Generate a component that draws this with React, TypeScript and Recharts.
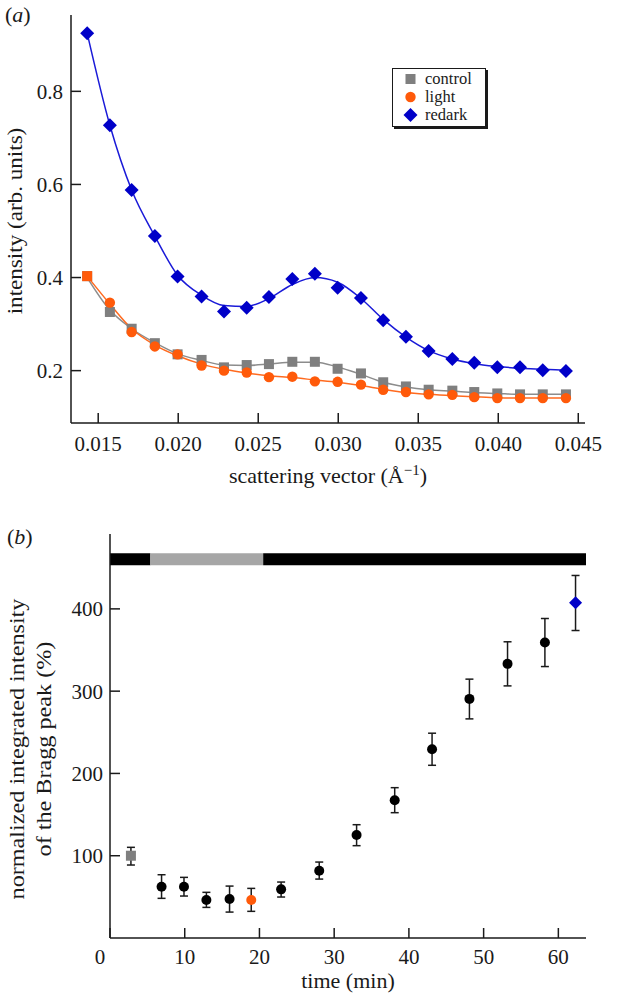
import React from 'react';
import {
  ComposedChart,
  Line,
  Scatter,
  ErrorBar,
  XAxis,
  YAxis,
  Legend,
  ReferenceArea,
  Label,
} from 'recharts';

// ---------- panel (a) data ----------
const qValues = [
  0.01431, 0.01573, 0.01709, 0.01854, 0.01996, 0.02146, 0.02286, 0.02428, 0.02567, 0.02713, 0.02854,
  0.02996, 0.03142, 0.03281, 0.03423, 0.03565, 0.03713, 0.0385, 0.03994, 0.04136, 0.04278, 0.04423,
];
const controlValues = [
  0.403, 0.326, 0.29, 0.259, 0.235, 0.223, 0.207, 0.212, 0.214, 0.219, 0.219, 0.204, 0.194, 0.175, 0.166,
  0.159, 0.157, 0.154, 0.151, 0.149, 0.149, 0.149,
];
const lightValues = [
  0.403, 0.346, 0.283, 0.252, 0.235, 0.211, 0.2, 0.196, 0.186, 0.187, 0.177, 0.176, 0.17, 0.159, 0.154,
  0.149, 0.148, 0.143, 0.141, 0.141, 0.141, 0.141,
];
const redarkValues = [
  0.925, 0.727, 0.588, 0.489, 0.402, 0.359, 0.327, 0.335, 0.358, 0.397, 0.408, 0.378, 0.356, 0.308, 0.273,
  0.242, 0.225, 0.217, 0.207, 0.207, 0.201, 0.199,
];
const controlFitValues = [
  0.4, 0.33, 0.29, 0.26, 0.236, 0.222, 0.212, 0.211, 0.214, 0.218, 0.218, 0.208, 0.192, 0.175, 0.165,
  0.159, 0.156, 0.153, 0.151, 0.149, 0.149, 0.149,
];
const lightFitValues = [
  0.403, 0.343, 0.29, 0.255, 0.232, 0.214, 0.203, 0.195, 0.189, 0.185, 0.18, 0.175, 0.168, 0.16, 0.153,
  0.149, 0.146, 0.144, 0.142, 0.141, 0.141, 0.141,
];
const redarkFitValues = [
  0.925, 0.727, 0.588, 0.489, 0.405, 0.362, 0.34, 0.338, 0.355, 0.385, 0.4, 0.39, 0.355, 0.31, 0.272,
  0.243, 0.225, 0.215, 0.209, 0.205, 0.203, 0.201,
];
const qTicks = [0.015, 0.02, 0.025, 0.03, 0.035, 0.04, 0.045];
const intensityTicks = [0.2, 0.4, 0.6, 0.8];
const legendLabels = ['control', 'light', 'redark'];

// ---------- panel (b) data ----------
const timeValues = [2.8, 6.9, 9.9, 12.9, 16, 18.9, 22.9, 28, 33, 38.1, 43.1, 48.1, 53.2, 58.2, 62.3];
const braggValues = [100, 62.3, 62.3, 46.1, 47.3, 46.1, 59.1, 81.8, 125.2, 167.4, 229.4, 290.6, 333.2, 359.1, 407.4];
const braggErrLow = [11.3, 14.1, 11.3, 8.9, 15.8, 13.7, 9.3, 10.2, 13, 15.1, 19.5, 24.3, 26.8, 29.2, 33.7];
const braggErrHigh = [10.2, 14.6, 11.4, 9.4, 15.8, 14.2, 8.9, 10.5, 12.5, 15.3, 19.5, 24, 26.8, 29.2, 33.2];
const braggGroup = [
  'control', 'dark', 'dark', 'dark', 'dark', 'light', 'dark', 'dark', 'dark', 'dark', 'dark', 'dark', 'dark',
  'dark', 'redark',
];
const timeTicks = [0, 10, 20, 30, 40, 50, 60];
const braggTicks = [100, 200, 300, 400];
const illumStart = [0, 5.4, 20.5];
const illumEnd = [5.4, 20.5, 63.7];
const illumState = ['dark', 'light', 'dark'];

// ---------- styles ----------
const SERIF = '"Liberation Serif", "Times New Roman", serif';
const FRAME = '#1a1a1a';
const GRAY = '#7f7f7f';
const GRAY_LINE = '#8c8c8c';
const ORANGE = '#ff5a0a';
const ORANGE_LINE = '#ff6a1f';
const BLUE = '#0000c8';
const BLUE_LINE = '#1a1ad8';
const TICK_FONT = 21;
const TITLE_FONT = 22;

const rowsA = qValues.map((q, i) => ({
  q,
  control: controlValues[i],
  light: lightValues[i],
  redark: redarkValues[i],
  controlFit: controlFitValues[i],
  lightFit: lightFitValues[i],
  redarkFit: redarkFitValues[i],
}));

const braggRows = timeValues.map((t, i) => ({
  t,
  v: braggValues[i],
  err: [braggErrLow[i], braggErrHigh[i]],
  group: braggGroup[i],
}));
const pointsOf = (g: string) => braggRows.filter((r) => r.group === g);

const illumBars = illumStart.map((s, i) => ({ s, e: illumEnd[i], state: illumState[i] }));

// ---------- marker shapes ----------
const square = (cx: number, cy: number, half: number, fill: string, key?: string) => (
  <rect key={key} x={cx - half} y={cy - half} width={half * 2} height={half * 2} fill={fill} />
);
const diamond = (cx: number, cy: number, r: number, fill: string, key?: string) => (
  <polygon key={key} points={`${cx},${cy - r} ${cx + r},${cy} ${cx},${cy + r} ${cx - r},${cy}`} fill={fill} />
);

const controlDot = (p: any) => square(p.cx, p.cy, 5, GRAY, `c${p.index}`);
const lightDot = (p: any) =>
  p.index === 0 ? (
    square(p.cx, p.cy, 5, ORANGE, `l${p.index}`)
  ) : (
    <circle key={`l${p.index}`} cx={p.cx} cy={p.cy} r={5.2} fill={ORANGE} />
  );
const redarkDot = (p: any) => diamond(p.cx, p.cy, 7, BLUE, `r${p.index}`);

const legendMarker = (label: string) => {
  if (label === 'control') return square(17.5, 9, 5, GRAY);
  if (label === 'light') return <circle cx={17.5} cy={9} r={5.2} fill={ORANGE} />;
  return diamond(17.5, 9, 7, BLUE);
};

const LEGEND_ROW = 18.4;
const legendContent = () => (
  <div
    style={{
      width: 94,
      height: 59,
      boxSizing: 'border-box',
      border: `1.5px solid ${FRAME}`,
      boxShadow: `2px 2px 0 ${FRAME}`,
      background: '#fff',
      paddingTop: 0.5,
      fontFamily: SERIF,
      fontSize: 16.5,
      color: FRAME,
    }}
  >
    {legendLabels.map((lab) => (
      <div key={lab} style={{ display: 'flex', alignItems: 'center', height: LEGEND_ROW }}>
        <svg width={32} height={18} style={{ flex: 'none' }}>
          {legendMarker(lab)}
        </svg>
        <span style={{ lineHeight: `${LEGEND_ROW}px` }}>{lab}</span>
      </div>
    ))}
  </div>
);

const qLabel = (props: any) => {
  const vb = props.viewBox || { x: 71, y: 423, width: 514, height: 77 };
  const cx = vb.x + vb.width / 2;
  return (
    <text x={cx} y={vb.y + 60} textAnchor="middle" fontFamily={SERIF} fontSize={TITLE_FONT} fill={FRAME}>
      <tspan>scattering vector (Å</tspan>
      <tspan dy={-8} fontSize={15}>
        −1
      </tspan>
      <tspan dy={8}>)</tspan>
    </text>
  );
};

// rotated title, stretched slightly along its length as in the reference
const rotatedText = (x: number, cy: number, stretch: number, content: string) => (
  <text
    x={0}
    y={0}
    transform={`translate(${x}, ${cy}) rotate(-90) scale(${stretch}, 1)`}
    textAnchor="middle"
    fontFamily={SERIF}
    fontSize={TITLE_FONT}
    fill={FRAME}
  >
    {content}
  </text>
);

const intensityLabel = (props: any) => {
  const vb = props.viewBox || { x: 0, y: 15, width: 71, height: 408 };
  const cy = vb.y + vb.height / 2 + 2;
  return rotatedText(22, cy, 1.05, 'intensity (arb. units)');
};

const timeLabel = (props: any) => {
  const vb = props.viewBox || { x: 110, y: 438, width: 476, height: 58 };
  const cx = vb.x + vb.width / 2;
  return (
    <text x={cx} y={vb.y + 50} textAnchor="middle" fontFamily={SERIF} fontSize={TITLE_FONT} fill={FRAME}>
      time (min)
    </text>
  );
};

const braggLabel = (props: any) => {
  const vb = props.viewBox || { x: 0, y: 34, width: 110, height: 404 };
  const cy = vb.y + vb.height / 2 + 13;
  return (
    <g>
      {rotatedText(24, cy, 1.1, 'normalized integrated intensity')}
      {rotatedText(51, cy, 1.1, 'of the Bragg peak (%)')}
    </g>
  );
};

const timeTick = (p: any) => (
  <text
    x={p.x + (p.payload.value === 0 ? -10 : 0)}
    y={p.y}
    dy="0.71em"
    textAnchor="middle"
    fontFamily={SERIF}
    fontSize={TICK_FONT}
    fill={FRAME}
  >
    {p.payload.value}
  </text>
);

const tickStyle = { fontFamily: SERIF, fontSize: TICK_FONT, fill: FRAME };
const axisLine = { stroke: FRAME, strokeWidth: 1.5 };
const tickLine = { stroke: FRAME, strokeWidth: 1.5 };

const dotShape = (fill: string) => (p: any) => <circle cx={p.cx} cy={p.cy} r={5} fill={fill} />;
const squareShape = (fill: string) => (p: any) => square(p.cx, p.cy, 5, fill);
const diamondShape = (fill: string) => (p: any) => diamond(p.cx, p.cy, 6.5, fill);

export default function App() {
  return (
    <div style={{ position: 'absolute', left: 0, top: 0, width: 620, height: 996, background: '#fff' }}>
      <div
        style={{
          position: 'absolute',
          left: 5,
          top: 3,
          fontFamily: SERIF,
          fontSize: 22,
          lineHeight: '24px',
          color: FRAME,
        }}
      >
        (<i>a</i>)
      </div>
      <div
        style={{
          position: 'absolute',
          left: 7,
          top: 525,
          fontFamily: SERIF,
          fontSize: 22,
          lineHeight: '24px',
          color: FRAME,
        }}
      >
        (<i>b</i>)
      </div>

      {/* panel (a) */}
      <div style={{ position: 'absolute', left: 0, top: 0 }}>
        <ComposedChart width={620} height={500} data={rowsA} margin={{ top: 15, right: 35, bottom: 0, left: 0 }}>
          <XAxis
            xAxisId="b"
            dataKey="q"
            type="number"
            domain={[0.0133, 0.04542]}
            allowDataOverflow
            ticks={qTicks}
            tickFormatter={(v: number) => v.toFixed(3)}
            height={77}
            tickSize={-10}
            tickMargin={23}
            tick={tickStyle}
            axisLine={axisLine}
            tickLine={tickLine}
          >
            <Label content={qLabel} />
          </XAxis>
          <XAxis
            xAxisId="t"
            dataKey="q"
            orientation="top"
            type="number"
            domain={[0.0133, 0.04542]}
            allowDataOverflow
            ticks={qTicks}
            height={0}
            tickSize={-10}
            tick={false}
            axisLine={axisLine}
            tickLine={tickLine}
          />
          <YAxis
            yAxisId="l"
            type="number"
            domain={[0.0875, 0.964]}
            allowDataOverflow
            ticks={intensityTicks}
            tickFormatter={(v: number) => v.toFixed(1)}
            width={71}
            tickSize={-10}
            tickMargin={18}
            tick={tickStyle}
            axisLine={axisLine}
            tickLine={tickLine}
          >
            <Label content={intensityLabel} />
          </YAxis>
          <YAxis
            yAxisId="r"
            orientation="right"
            type="number"
            domain={[0.0875, 0.964]}
            allowDataOverflow
            ticks={intensityTicks}
            width={0}
            tickSize={-10}
            tick={false}
            axisLine={axisLine}
            tickLine={tickLine}
          />
          <Line
            xAxisId="b"
            yAxisId="l"
            dataKey="control"
            stroke="none"
            strokeWidth={0}
            dot={controlDot}
            activeDot={false}
            isAnimationActive={false}
          />
          <Line
            xAxisId="b"
            yAxisId="l"
            dataKey="controlFit"
            type="monotone"
            stroke={GRAY_LINE}
            strokeWidth={1.5}
            dot={false}
            activeDot={false}
            isAnimationActive={false}
          />
          <Line
            xAxisId="b"
            yAxisId="l"
            dataKey="light"
            stroke="none"
            strokeWidth={0}
            dot={lightDot}
            activeDot={false}
            isAnimationActive={false}
          />
          <Line
            xAxisId="b"
            yAxisId="l"
            dataKey="lightFit"
            type="monotone"
            stroke={ORANGE_LINE}
            strokeWidth={1.5}
            dot={false}
            activeDot={false}
            isAnimationActive={false}
          />
          <Line
            xAxisId="b"
            yAxisId="l"
            dataKey="redark"
            stroke="none"
            strokeWidth={0}
            dot={redarkDot}
            activeDot={false}
            isAnimationActive={false}
          />
          <Line
            xAxisId="b"
            yAxisId="l"
            dataKey="redarkFit"
            type="monotone"
            stroke={BLUE_LINE}
            strokeWidth={1.5}
            dot={false}
            activeDot={false}
            isAnimationActive={false}
          />
          <Legend
            layout="vertical"
            align="center"
            verticalAlign="middle"
            content={legendContent}
            wrapperStyle={{ left: 392, top: 68, width: 94, height: 59 }}
          />
        </ComposedChart>
      </div>

      {/* panel (b) */}
      <div style={{ position: 'absolute', left: 0, top: 500 }}>
        <ComposedChart width={620} height={496} margin={{ top: 34, right: 34, bottom: 0, left: 0 }}>
          <XAxis
            xAxisId="b"
            dataKey="t"
            type="number"
            domain={[0, 63.7]}
            allowDataOverflow
            ticks={timeTicks}
            height={58}
            tickSize={-10}
            tickMargin={21}
            tick={timeTick}
            axisLine={axisLine}
            tickLine={tickLine}
          >
            <Label content={timeLabel} />
          </XAxis>
          <XAxis
            xAxisId="t"
            dataKey="t"
            orientation="top"
            type="number"
            domain={[0, 63.7]}
            allowDataOverflow
            height={0}
            tick={false}
            tickLine={false}
            axisLine={axisLine}
          />
          <YAxis
            yAxisId="l"
            dataKey="v"
            type="number"
            domain={[0, 491]}
            allowDataOverflow
            ticks={braggTicks}
            width={110}
            tickSize={-10}
            tickMargin={17}
            tick={tickStyle}
            axisLine={axisLine}
            tickLine={tickLine}
          >
            <Label content={braggLabel} />
          </YAxis>
          <YAxis
            yAxisId="r"
            dataKey="v"
            orientation="right"
            type="number"
            domain={[0, 491]}
            allowDataOverflow
            width={0}
            tick={false}
            tickLine={false}
            axisLine={axisLine}
          />
          {illumBars.map((b, i) => (
            <ReferenceArea
              key={i}
              xAxisId="b"
              yAxisId="l"
              x1={b.s}
              x2={b.e}
              y1={453}
              y2={467.6}
              fill={b.state === 'light' ? '#a6a6a6' : '#000'}
              fillOpacity={1}
              stroke="none"
              ifOverflow="extendDomain"
            />
          ))}
          <Scatter
            xAxisId="b"
            yAxisId="l"
            data={pointsOf('dark')}
            dataKey="v"
            shape={dotShape('#000')}
            isAnimationActive={false}
          >
            <ErrorBar dataKey="err" direction="y" width={4} stroke={FRAME} strokeWidth={1.5} />
          </Scatter>
          <Scatter
            xAxisId="b"
            yAxisId="l"
            data={pointsOf('control')}
            dataKey="v"
            shape={squareShape(GRAY)}
            isAnimationActive={false}
          >
            <ErrorBar dataKey="err" direction="y" width={4} stroke={FRAME} strokeWidth={1.5} />
          </Scatter>
          <Scatter
            xAxisId="b"
            yAxisId="l"
            data={pointsOf('light')}
            dataKey="v"
            shape={dotShape(ORANGE)}
            isAnimationActive={false}
          >
            <ErrorBar dataKey="err" direction="y" width={4} stroke={FRAME} strokeWidth={1.5} />
          </Scatter>
          <Scatter
            xAxisId="b"
            yAxisId="l"
            data={pointsOf('redark')}
            dataKey="v"
            shape={diamondShape(BLUE)}
            isAnimationActive={false}
          >
            <ErrorBar dataKey="err" direction="y" width={4} stroke={FRAME} strokeWidth={1.5} />
          </Scatter>
        </ComposedChart>
      </div>
    </div>
  );
}
